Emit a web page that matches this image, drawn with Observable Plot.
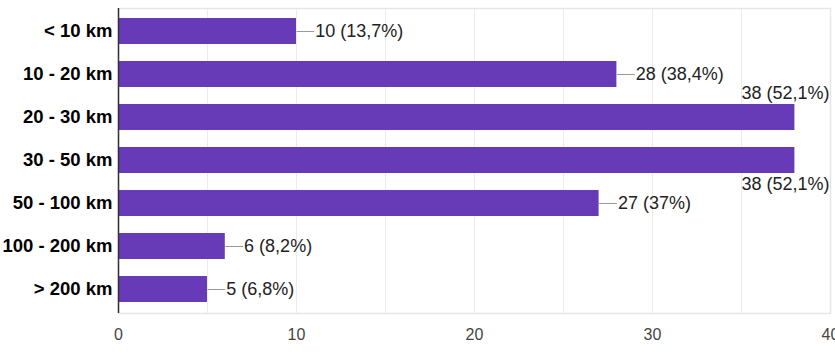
<!DOCTYPE html>
<html>
<head>
<meta charset="utf-8">
<script src="https://cdn.jsdelivr.net/npm/d3@7"></script>
<script src="https://cdn.jsdelivr.net/npm/@observablehq/plot@0.6"></script>
<style>
  html, body { margin: 0; padding: 0; background: #fff; }
  #chart { width: 835px; height: 357px; overflow: hidden; }
</style>
</head>
<body>
<div id="chart"></div>
<script>
const categories = ["< 10 km", "10 - 20 km", "20 - 30 km", "30 - 50 km", "50 - 100 km", "100 - 200 km", "> 200 km"];
const counts = [10, 28, 38, 38, 27, 6, 5];
const percents = ["13,7%", "38,4%", "52,1%", "52,1%", "37%", "8,2%", "6,8%"];
const xTicks = [0, 10, 20, 30, 40];
const gridLines = [5, 10, 15, 20, 25, 30, 35, 40];

const data = categories.map((c, i) => ({cat: c, count: counts[i], label: `${counts[i]} (${percents[i]})`}));
const inside = data.filter(d => d.count < 35);
const longOnes = data.filter(d => d.count >= 35);
const above = longOnes.slice(0, 1);
const below = longOnes.slice(1);

const chart = Plot.plot({
  width: 835,
  height: 357,
  marginLeft: 118,
  marginRight: 5,
  marginTop: 8,
  marginBottom: 44,
  style: {fontFamily: "'Liberation Sans', Arial, sans-serif", fontSize: "16px", background: "#fff", overflow: "hidden"},
  x: {domain: [0, 40], label: null},
  y: {domain: categories, label: null, paddingInner: 0.39, paddingOuter: 0.2},
  marks: [
    Plot.ruleX(gridLines, {stroke: "#ebebeb", strokeWidth: 1}),
    Plot.frame({stroke: "#e6e6e6", strokeWidth: 1.5}),
    Plot.barX(data, {x: "count", y: "cat", fill: "#673ab7"}),
    Plot.ruleX([0], {stroke: "#333", strokeWidth: 1.5}),
    Plot.axisY({tickSize: 0, tickPadding: 6, fontWeight: "bold", fill: "#000", fontSize: 18.5}),
    Plot.axisX({ticks: xTicks, tickSize: 0, tickPadding: 15, fill: "#444", fontSize: 16}),
    Plot.link(inside, {x1: "count", x2: d => d.count + 1, y1: "cat", y2: "cat", stroke: "#999", strokeWidth: 1}),
    Plot.text(inside, {x: d => d.count + 1, y: "cat", text: "label", textAnchor: "start", dx: 1, fill: "#222", fontSize: 18}),
    Plot.text(above, {x: 40, y: "cat", text: "label", textAnchor: "end", dx: -1, dy: -24, fill: "#222", fontSize: 18}),
    Plot.text(below, {x: 40, y: "cat", text: "label", textAnchor: "end", dx: -1, dy: 24, fill: "#222", fontSize: 18})
  ]
});
document.getElementById("chart").appendChild(chart);
</script>
</body>
</html>
